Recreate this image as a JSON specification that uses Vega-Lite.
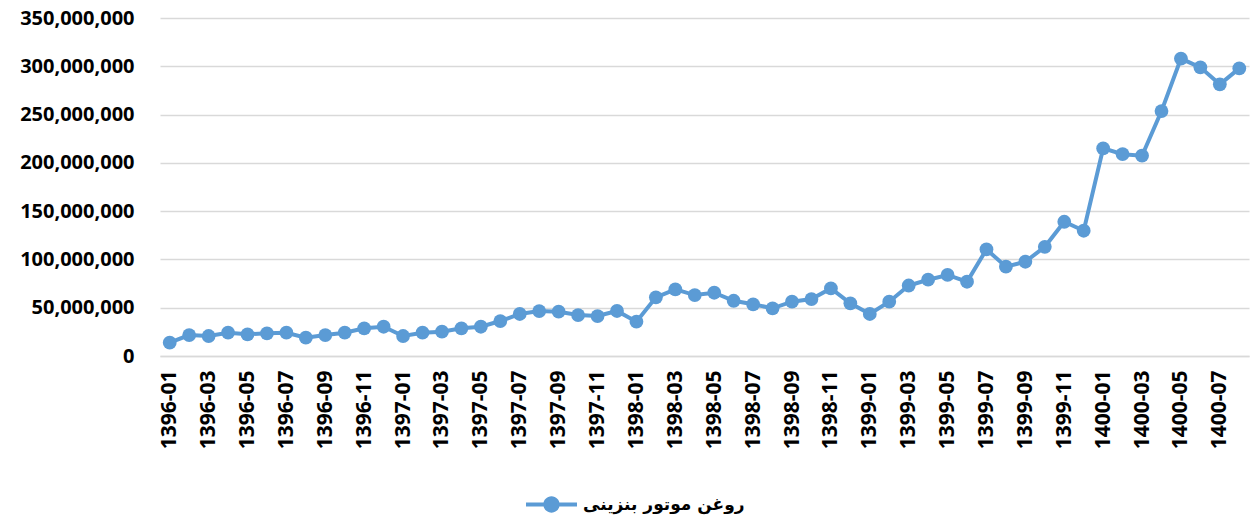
{
  "$schema": "https://vega.github.io/schema/vega-lite/v6.json",
  "width": 1089,
  "height": 338,
  "autosize": "none",
  "padding": {"left": 160, "top": 18, "right": 1, "bottom": 165},
  "background": "white",
  "config": {"view": {"stroke": null}},
  "data": {"values": [
    {"m": "1396-01", "v": 13800000, "s": "روغن موتور بنزینی"},
    {"m": "1396-02", "v": 21700000, "s": "روغن موتور بنزینی"},
    {"m": "1396-03", "v": 20700000, "s": "روغن موتور بنزینی"},
    {"m": "1396-04", "v": 24100000, "s": "روغن موتور بنزینی"},
    {"m": "1396-05", "v": 22500000, "s": "روغن موتور بنزینی"},
    {"m": "1396-06", "v": 23500000, "s": "روغن موتور بنزینی"},
    {"m": "1396-07", "v": 24100000, "s": "روغن موتور بنزینی"},
    {"m": "1396-08", "v": 19000000, "s": "روغن موتور بنزینی"},
    {"m": "1396-09", "v": 21700000, "s": "روغن موتور بنزینی"},
    {"m": "1396-10", "v": 24100000, "s": "روغن موتور بنزینی"},
    {"m": "1396-11", "v": 28700000, "s": "روغن موتور بنزینی"},
    {"m": "1396-12", "v": 30300000, "s": "روغن موتور بنزینی"},
    {"m": "1397-01", "v": 20700000, "s": "روغن موتور بنزینی"},
    {"m": "1397-02", "v": 24100000, "s": "روغن موتور بنزینی"},
    {"m": "1397-03", "v": 25200000, "s": "روغن موتور بنزینی"},
    {"m": "1397-04", "v": 28700000, "s": "روغن موتور بنزینی"},
    {"m": "1397-05", "v": 30300000, "s": "روغن موتور بنزینی"},
    {"m": "1397-06", "v": 36200000, "s": "روغن موتور بنزینی"},
    {"m": "1397-07", "v": 43500000, "s": "روغن موتور بنزینی"},
    {"m": "1397-08", "v": 46500000, "s": "روغن موتور بنزینی"},
    {"m": "1397-09", "v": 45900000, "s": "روغن موتور بنزینی"},
    {"m": "1397-10", "v": 42400000, "s": "روغن موتور بنزینی"},
    {"m": "1397-11", "v": 41400000, "s": "روغن موتور بنزینی"},
    {"m": "1397-12", "v": 46600000, "s": "روغن موتور بنزینی"},
    {"m": "1398-01", "v": 35500000, "s": "روغن موتور بنزینی"},
    {"m": "1398-02", "v": 60800000, "s": "روغن موتور بنزینی"},
    {"m": "1398-03", "v": 69000000, "s": "روغن موتور بنزینی"},
    {"m": "1398-04", "v": 63100000, "s": "روغن موتور بنزینی"},
    {"m": "1398-05", "v": 65500000, "s": "روغن موتور بنزینی"},
    {"m": "1398-06", "v": 57200000, "s": "روغن موتور بنزینی"},
    {"m": "1398-07", "v": 53500000, "s": "روغن موتور بنزینی"},
    {"m": "1398-08", "v": 49400000, "s": "روغن موتور بنزینی"},
    {"m": "1398-09", "v": 56200000, "s": "روغن موتور بنزینی"},
    {"m": "1398-10", "v": 59000000, "s": "روغن موتور بنزینی"},
    {"m": "1398-11", "v": 70000000, "s": "روغن موتور بنزینی"},
    {"m": "1398-12", "v": 54500000, "s": "روغن موتور بنزینی"},
    {"m": "1399-01", "v": 43500000, "s": "روغن موتور بنزینی"},
    {"m": "1399-02", "v": 56200000, "s": "روغن موتور بنزینی"},
    {"m": "1399-03", "v": 73000000, "s": "روغن موتور بنزینی"},
    {"m": "1399-04", "v": 79000000, "s": "روغن موتور بنزینی"},
    {"m": "1399-05", "v": 83900000, "s": "روغن موتور بنزینی"},
    {"m": "1399-06", "v": 76900000, "s": "روغن موتور بنزینی"},
    {"m": "1399-07", "v": 110400000, "s": "روغن موتور بنزینی"},
    {"m": "1399-08", "v": 92500000, "s": "روغن موتور بنزینی"},
    {"m": "1399-09", "v": 97600000, "s": "روغن موتور بنزینی"},
    {"m": "1399-10", "v": 113100000, "s": "روغن موتور بنزینی"},
    {"m": "1399-11", "v": 139000000, "s": "روغن موتور بنزینی"},
    {"m": "1399-12", "v": 129700000, "s": "روغن موتور بنزینی"},
    {"m": "1400-01", "v": 215000000, "s": "روغن موتور بنزینی"},
    {"m": "1400-02", "v": 209000000, "s": "روغن موتور بنزینی"},
    {"m": "1400-03", "v": 207400000, "s": "روغن موتور بنزینی"},
    {"m": "1400-04", "v": 253600000, "s": "روغن موتور بنزینی"},
    {"m": "1400-05", "v": 308000000, "s": "روغن موتور بنزینی"},
    {"m": "1400-06", "v": 298900000, "s": "روغن موتور بنزینی"},
    {"m": "1400-07", "v": 281300000, "s": "روغن موتور بنزینی"},
    {"m": "1400-08", "v": 297800000, "s": "روغن موتور بنزینی"}
  ]},
  "mark": {"type": "line", "strokeWidth": 4, "point": {"filled": true, "size": 190, "opacity": 1}},
  "encoding": {
    "x": {
      "field": "m", "type": "ordinal", "sort": null,
      "scale": {"type": "point", "padding": 0.5},
      "axis": {
        "title": null,
        "values": ["1396-01","1396-03","1396-05","1396-07","1396-09","1396-11","1397-01","1397-03","1397-05","1397-07","1397-09","1397-11","1398-01","1398-03","1398-05","1398-07","1398-09","1398-11","1399-01","1399-03","1399-05","1399-07","1399-09","1399-11","1400-01","1400-03","1400-05","1400-07"],
        "labelAngle": -90,
        "labelFont": "Open Sans",
        "labelFontWeight": "bold",
        "labelFontSize": 21,
        "labelColor": "#000000",
        "labelPadding": 14,
        "ticks": false,
        "domain": true,
        "domainColor": "#d9d9d9",
        "domainWidth": 1.5,
        "grid": false
      }
    },
    "y": {
      "field": "v", "type": "quantitative",
      "scale": {"domain": [0, 350000000], "nice": false},
      "axis": {
        "title": null,
        "values": [0, 50000000, 100000000, 150000000, 200000000, 250000000, 300000000, 350000000],
        "format": ",d",
        "labelFont": "Open Sans",
        "labelFontWeight": "bold",
        "labelFontSize": 20,
        "labelColor": "#000000",
        "labelPadding": 26,
        "ticks": false,
        "domain": false,
        "grid": true,
        "gridColor": "#d9d9d9",
        "gridWidth": 1.5
      }
    },
    "color": {
      "field": "s", "type": "nominal",
      "scale": {"domain": ["روغن موتور بنزینی"], "range": ["#5b9bd5"]},
      "legend": {
        "title": null,
        "orient": "none",
        "legendX": 366,
        "legendY": 461,
        "direction": "horizontal",
        "symbolType": "M-1,-0.08H1V0.08H-1Z M-0.32,0A0.32,0.32 0 1,1 0.32,0A0.32,0.32 0 1,1 -0.32,0Z",
        "symbolSize": 2600,
        "symbolFillColor": "#5b9bd5",
        "symbolStrokeWidth": 0,
        "labelFont": "DejaVu Sans",
        "labelFontWeight": "bold",
        "labelFontSize": 17,
        "labelLimit": 500,
        "labelColor": "#000000",
        "labelOffset": 6
      }
    }
  }
}
